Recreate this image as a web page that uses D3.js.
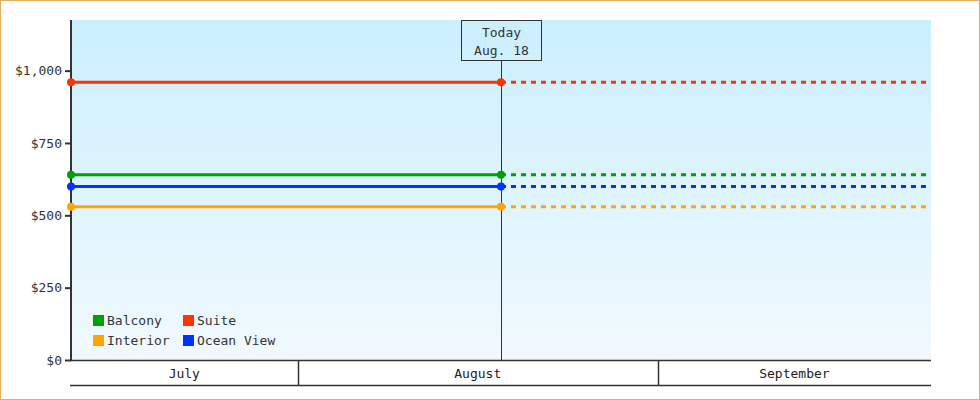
<!DOCTYPE html>
<html>
<head>
<meta charset="utf-8">
<script src="https://cdn.jsdelivr.net/npm/d3@7"></script>
<style>
  html, body { margin: 0; padding: 0; background: #fff; }
  svg { display: block; font-family: "DejaVu Sans Mono", monospace; }
</style>
</head>
<body>
<svg id="chart" width="980" height="400"></svg>
<script>
// ---- data ----
const seriesNames = ["Balcony", "Suite", "Interior", "Ocean View"];
const seriesColors = ["#00a000", "#ff3300", "#ffa500", "#0033ff"];
const seriesValues = [640, 960, 530, 600];
const startDate = "2024-07-12T12:00:00Z";
const todayDate = "2024-08-18T12:00:00Z";
const endDate = "2024-09-24T12:00:00Z";
const todayLabel = ["Today", "Aug. 18"];
const monthNames = ["July", "August", "September"];
const monthStarts = ["2024-07-01T00:00:00Z", "2024-08-01T00:00:00Z", "2024-09-01T00:00:00Z", "2024-10-01T00:00:00Z"];
const yTicks = [0, 250, 500, 750, 1000];
const yMax = 1175;

// ---- layout ----
const W = 980, H = 400;
const L = 71, R = 931, T = 20, B = 360, monthBandB = 385;
const svg = d3.select("#chart");

const x = d3.scaleUtc().domain([new Date(startDate), new Date(endDate)]).range([L, R]);
const y = d3.scaleLinear().domain([0, yMax]).range([B, T]);

// gradient background
const defs = svg.append("defs");
const grad = defs.append("linearGradient").attr("id", "bg").attr("x1", 0).attr("y1", 0).attr("x2", 0).attr("y2", 1);
grad.append("stop").attr("offset", "0%").attr("stop-color", "#cbeffd");
grad.append("stop").attr("offset", "100%").attr("stop-color", "#f1f9fe");

svg.append("rect").attr("x", L).attr("y", T).attr("width", R - L).attr("height", B - T).attr("fill", "url(#bg)");

// outer border
svg.append("rect").attr("x", 0.5).attr("y", 0.5).attr("width", W - 1).attr("height", H - 1)
  .attr("fill", "none").attr("stroke", "#e9aa63").attr("stroke-width", 1);

// month band
const ms = monthStarts.map(d => new Date(d));
const band = svg.append("g");
band.append("line").attr("x1", L - 1).attr("x2", R).attr("y1", B + 0.5).attr("y2", B + 0.5).attr("stroke", "#333").attr("stroke-width", 1.5);
band.append("line").attr("x1", L - 1).attr("x2", R).attr("y1", monthBandB + 0.5).attr("y2", monthBandB + 0.5).attr("stroke", "#333").attr("stroke-width", 1.5);
monthNames.forEach((m, i) => {
  const s = Math.max(x(ms[i]), L), e = Math.min(x(ms[i + 1]), R);
  if (i > 0) {
    band.append("line").attr("x1", Math.round(s) + 0.5).attr("x2", Math.round(s) + 0.5).attr("y1", B).attr("y2", monthBandB)
      .attr("stroke", "#333").attr("stroke-width", 1.5);
  }
  band.append("text").attr("x", (s + e) / 2).attr("y", (B + monthBandB) / 2 + 1).attr("dy", "0.35em")
    .attr("text-anchor", "middle").attr("font-size", 13).attr("fill", "#222").text(m);
});

// y axis
const yAxis = d3.axisLeft(y).tickValues(yTicks).tickFormat(d3.format("$,")).tickSize(6).tickPadding(3);
const yg = svg.append("g").attr("transform", `translate(${L},0)`).call(yAxis);
yg.select(".domain").remove();
yg.selectAll(".tick line").attr("stroke", "#333").attr("stroke-width", 2);
yg.selectAll(".tick text").attr("font-size", 13).attr("fill", "#333").attr("font-family", "DejaVu Sans Mono, monospace");
svg.append("line").attr("x1", L).attr("x2", L).attr("y1", T).attr("y2", B + 1).attr("stroke", "#333").attr("stroke-width", 2);

// today marker
const tx = Math.round(x(new Date(todayDate))) + 0.5;
svg.append("line").attr("x1", tx).attr("x2", tx).attr("y1", T + 40).attr("y2", B).attr("stroke", "#333").attr("stroke-width", 1);
svg.append("rect").attr("x", tx - 40).attr("y", T + 0.5).attr("width", 80).attr("height", 40)
  .attr("fill", "none").attr("stroke", "#333").attr("stroke-width", 1);
todayLabel.forEach((t, i) => {
  svg.append("text").attr("x", tx).attr("y", T + 12.5 + i * 17.5).attr("dy", "0.35em").attr("text-anchor", "middle")
    .attr("font-size", 13).attr("fill", "#333").text(t);
});

// series
const s0 = new Date(startDate), s1 = new Date(todayDate), s2 = new Date(endDate);
const lineGen = d3.line().x(d => x(d[0])).y(d => y(d[1]));
const sg = svg.append("g");
seriesNames.forEach((n, i) => {
  const v = seriesValues[i], c = seriesColors[i];
  sg.append("path").attr("d", lineGen([[s0, v], [s1, v]])).attr("stroke", c).attr("stroke-width", 3).attr("fill", "none");
  sg.append("path").attr("d", lineGen([[s1, v], [s2, v]])).attr("stroke", c).attr("stroke-width", 3)
    .attr("stroke-dasharray", "5,5").attr("fill", "none");
});
seriesNames.forEach((n, i) => {
  const v = seriesValues[i], c = seriesColors[i];
  [s0, s1].forEach(d => {
    sg.append("circle").attr("cx", x(d)).attr("cy", y(v)).attr("r", 4).attr("fill", c);
  });
});

// legend
const lg = svg.append("g");
const legendPos = [[93, 315], [183, 315], [93, 335], [183, 335]];
seriesNames.forEach((n, i) => {
  const [lx, ly] = legendPos[i];
  lg.append("rect").attr("x", lx).attr("y", ly).attr("width", 11).attr("height", 11).attr("fill", seriesColors[i]);
  lg.append("text").attr("x", lx + 14).attr("y", ly + 5.5).attr("dy", "0.35em").attr("font-size", 13)
    .attr("fill", "#333").text(n);
});
</script>
</body>
</html>
